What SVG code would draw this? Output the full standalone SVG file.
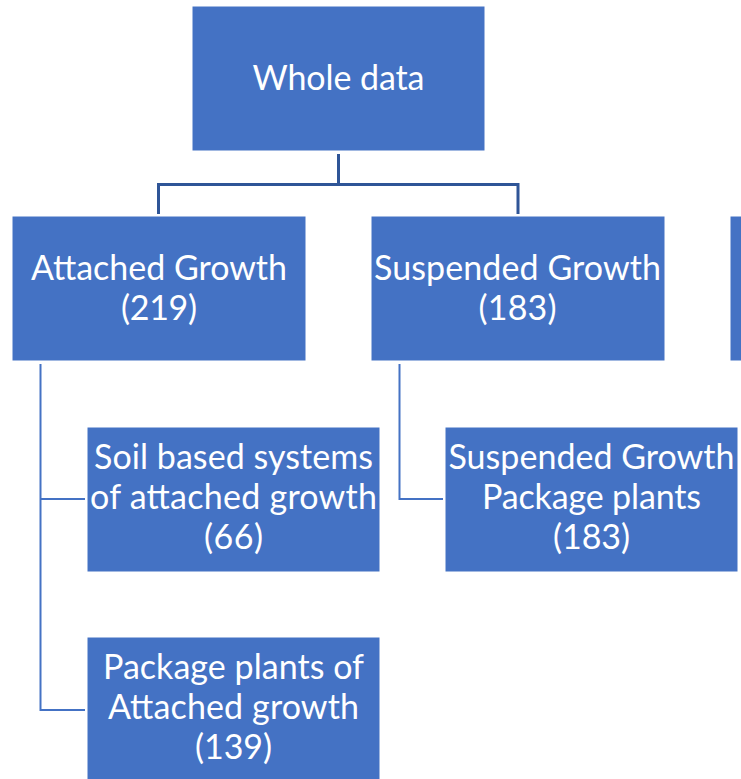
<svg xmlns="http://www.w3.org/2000/svg" width="741" height="779" viewBox="0 0 741 779">
<style>
.box{fill:#4472C4;stroke:#FFFFFF;stroke-width:1}
.t{font-family:Lato,"Liberation Sans",sans-serif;font-size:34px;fill:#FFFFFF;text-anchor:middle}
.c1{fill:none;stroke:#2F5597;stroke-width:3}
.c2{fill:none;stroke:#4472C4;stroke-width:2}
</style>
<rect width="741" height="779" fill="#FFFFFF"/>
<g id="connectors">
<path class="c1" d="M338.5,154 V184.5 M158.5,214 V184.5 H518 V214"/>
<path class="c2" d="M40.5,364 V710 H85 M40.5,499 H85"/>
<path class="c2" d="M399.5,364 V499 H443"/>
</g>
<g id="n0">
<rect class="box" x="192" y="6" width="293" height="145"/>
<text class="t" x="338.5" y="90" textLength="172">Whole data</text>
</g>
<g id="n1">
<rect class="box" x="12" y="216" width="294" height="145"/>
<text class="t" x="159" y="280" textLength="256">Attached Growth</text>
<text class="t" x="159" y="320" textLength="76">(219)</text>
</g>
<g id="n2">
<rect class="box" x="371" y="216" width="294" height="145"/>
<text class="t" x="517.5" y="280" textLength="287">Suspended Growth</text>
<text class="t" x="517.5" y="320" textLength="78">(183)</text>
</g>
<g id="n3">
<rect class="box" x="730" y="216" width="294" height="145"/>
</g>
<g id="n4">
<rect class="box" x="87" y="427" width="293" height="145"/>
<text class="t" x="233.5" y="469" textLength="279">Soil based systems</text>
<text class="t" x="233.5" y="509" textLength="287">of attached growth</text>
<text class="t" x="233.5" y="549" textLength="59">(66)</text>
</g>
<g id="n5">
<rect class="box" x="445" y="427" width="293" height="145"/>
<text class="t" x="591.5" y="469" textLength="286">Suspended Growth</text>
<text class="t" x="591.5" y="509" textLength="219">Package plants</text>
<text class="t" x="591.5" y="549" textLength="77">(183)</text>
</g>
<g id="n6">
<rect class="box" x="87" y="637" width="293" height="145"/>
<text class="t" x="233.5" y="679" textLength="261">Package plants of</text>
<text class="t" x="233.5" y="719" textLength="251">Attached growth</text>
<text class="t" x="233.5" y="759" textLength="77">(139)</text>
</g>
</svg>
